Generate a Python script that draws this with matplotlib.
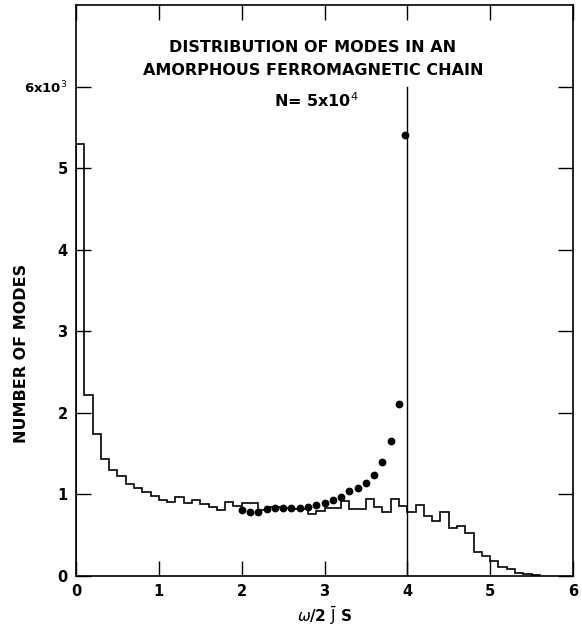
import numpy as np
import matplotlib
matplotlib.use("Agg")
import matplotlib.pyplot as plt

# Histogram: number of modes (in units of 10^3) per bin of width 0.1 in omega/2JS
bin_edges = [round(0.1 * i, 1) for i in range(57)]
hist_counts = [5.30, 2.22, 1.74, 1.44, 1.30, 1.22, 1.13, 1.08, 1.03, 0.98,
               0.93, 0.91, 0.97, 0.90, 0.93, 0.88, 0.85, 0.81, 0.91, 0.86,
               0.90, 0.90, 0.81, 0.84, 0.84, 0.83, 0.82, 0.82, 0.76, 0.80,
               0.83, 0.83, 0.92, 0.82, 0.82, 0.94, 0.85, 0.79, 0.94, 0.86,
               0.79, 0.87, 0.73, 0.67, 0.79, 0.59, 0.61, 0.53, 0.30, 0.25,
               0.19, 0.11, 0.08, 0.04, 0.02, 0.01]

# Dots (comparison values)
dot_x = [2.0, 2.1, 2.2, 2.3, 2.4, 2.5, 2.6, 2.7, 2.8, 2.9,
         3.0, 3.1, 3.2, 3.3, 3.4, 3.5, 3.6, 3.7, 3.8, 3.9, 3.97]
dot_y = [0.81, 0.79, 0.79, 0.82, 0.83, 0.83, 0.83, 0.83, 0.84, 0.87,
         0.90, 0.93, 0.97, 1.04, 1.08, 1.14, 1.24, 1.40, 1.65, 2.11, 5.41]

x_ticks = [0, 1, 2, 3, 4, 5, 6]
x_ticklabels = ["0", "1", "2", "3", "4", "5", "6"]
y_ticks = [0, 1, 2, 3, 4, 5, 6]
y_ticklabels = ["0", "1", "2", "3", "4", "5", r"6x10$^3$"]

edge_value = 4.0
edge_top = 6.0

fig = plt.figure(figsize=(5.82, 6.30), dpi=100)
ax = fig.add_axes([76/582, 1-576/630, (573-76)/582, (576-5)/630])

ax.stairs(hist_counts, bin_edges[:len(hist_counts)+1], color="black", lw=1.2, baseline=0)
ax.plot(dot_x, dot_y, "o", color="black", ms=4.6, mec="black")
ax.plot([edge_value, edge_value], [0, edge_top], color="black", lw=1.0)

ax.set_xlim(0, 6)
ax.set_ylim(0, 7)
ax.set_xticks(x_ticks)
ax.set_xticklabels(x_ticklabels)
ax.set_yticks(y_ticks)
ax.set_yticklabels(y_ticklabels)
ax.tick_params(direction="in", length=11, width=1.0, top=True, right=True,
               labelsize=10.5, pad=6)
for lab in ax.get_xticklabels() + ax.get_yticklabels():
    lab.set_fontweight("bold")
ax.get_yticklabels()[-1].set_fontsize(9.5)
for s in ax.spines.values():
    s.set_linewidth(1.2)

ax.set_xlabel(r"$\omega$/2 $\bar{\mathrm{J}}$ S", fontsize=11, fontweight="bold", labelpad=4)
ax.set_ylabel("NUMBER OF MODES", fontsize=11.5, fontweight="bold")
ax.yaxis.set_label_coords(-0.095, 0.39)

ax.text(2.86, 6.48, "DISTRIBUTION OF MODES IN AN", ha="center", va="center",
        fontsize=11.5, fontweight="bold")
ax.text(2.86, 6.20, "AMORPHOUS FERROMAGNETIC CHAIN", ha="center", va="center",
        fontsize=11.5, fontweight="bold")
ax.text(2.90, 5.83, r"N= 5x10$^4$", ha="center", va="center",
        fontsize=11.5, fontweight="bold")

fig.savefig("out.png", dpi=100)
